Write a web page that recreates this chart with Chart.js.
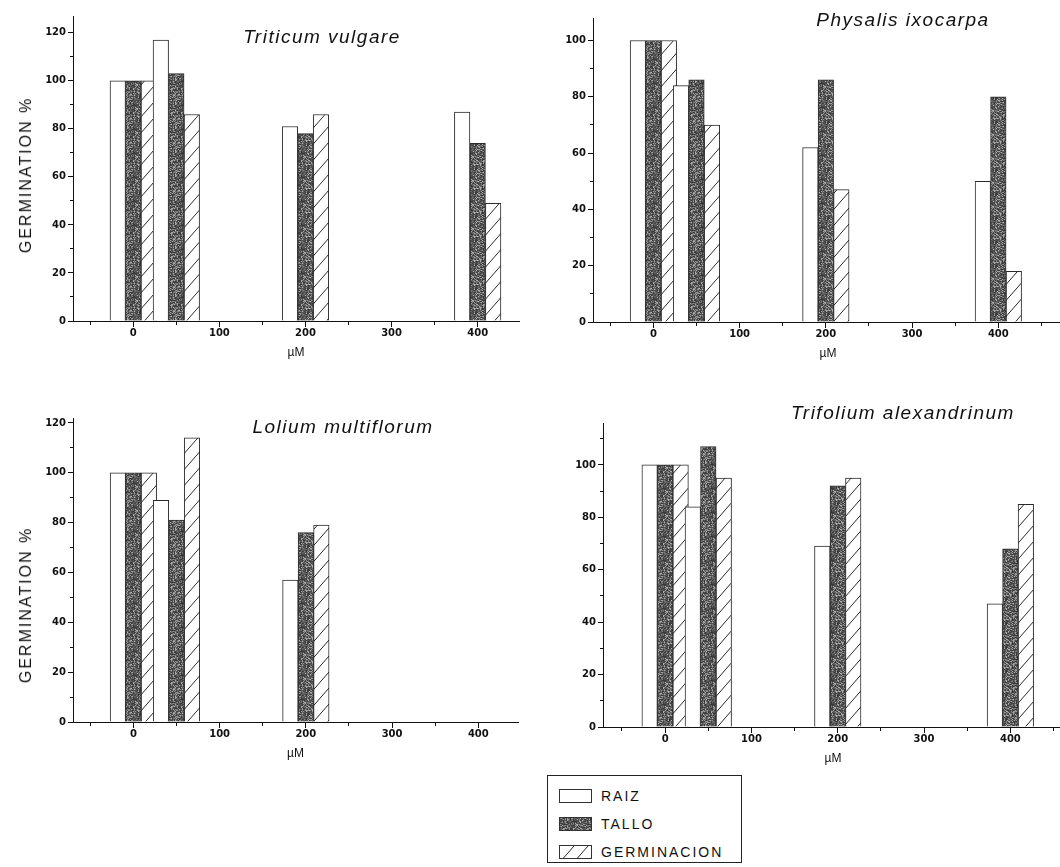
<!DOCTYPE html>
<html>
<head>
<meta charset="utf-8">
<title>Germinación</title>
<script src="https://cdn.jsdelivr.net/npm/chart.js@4.4.1/dist/chart.umd.min.js"></script>
<style>
  html, body { margin: 0; padding: 0; background: #fff; }
  body { width: 1060px; height: 867px; position: relative; overflow: hidden; font-family: "Liberation Sans", Arial, sans-serif; color: #111; }
  canvas { position: absolute; }
  .title { position: absolute; transform: translate(-50%, -50%); font-style: italic; font-size: 19px; letter-spacing: 1.5px; white-space: nowrap; }
  .ylabel { position: absolute; transform: translate(-50%, -50%) rotate(-90deg); font-size: 16px; letter-spacing: 2px; white-space: nowrap; }
  .legend { position: absolute; left: 547px; top: 775px; width: 195px; height: 88px; border: 1.5px solid #222; box-sizing: border-box; }
  .legend .item { position: absolute; left: 11px; height: 15px; display: flex; align-items: center; }
  .legend .swatch { width: 33px; height: 14px; border: 1px solid #333; box-sizing: border-box; margin-right: 9px; }
  .legend .name { font-size: 14px; letter-spacing: 2px; }
</style>
</head>
<body>
<script>
// concentrations (µM) and germination values per species
const concentrations = [0, 50, 200, 400];
const seriesNames = ['RAIZ', 'TALLO', 'GERMINACION'];

const triticumRaiz = [100, 117, 81, 87];
const triticumTallo = [100, 103, 78, 74];
const triticumGerm = [100, 86, 86, 49];

const physalisRaiz = [100, 84, 62, 50];
const physalisTallo = [100, 86, 86, 80];
const physalisGerm = [100, 70, 47, 18];

const loliumRaiz = [100, 89, 57, null];
const loliumTallo = [100, 81, 76, null];
const loliumGerm = [100, 114, 79, null];

const trifoliumRaiz = [100, 84, 69, 47];
const trifoliumTallo = [100, 107, 92, 68];
const trifoliumGerm = [100, 95, 95, 85];

const xTickLabels = [0, 100, 200, 300, 400];
const yTickLabels = [0, 20, 40, 60, 80, 100, 120];

// panel geometry: plot area [left, top, right, bottom] in page pixels
const panels = [
  { title: 'Triticum vulgare', values: [triticumRaiz, triticumTallo, triticumGerm],
    area: [73, 16, 519, 321], xMin: -70, xMax: 448, yMax: 127, titleAt: [322, 37], yLabelAt: [26, 175] },
  { title: 'Physalis ixocarpa', values: [physalisRaiz, physalisTallo, physalisGerm],
    area: [593, 18, 1063, 322], xMin: -70, xMax: 475, yMax: 108, titleAt: [903, 20], yLabelAt: null },
  { title: 'Lolium multiflorum', values: [loliumRaiz, loliumTallo, loliumGerm],
    area: [73, 418, 518, 722], xMin: -70, xMax: 446, yMax: 122, titleAt: [343, 427], yLabelAt: [26, 605] },
  { title: 'Trifolium alexandrinum', values: [trifoliumRaiz, trifoliumTallo, trifoliumGerm],
    area: [603, 423, 1063, 727], xMin: -72, xMax: 461, yMax: 116, titleAt: [903, 413], yLabelAt: null }
];

// dark stippled fill for TALLO
function stippleTile() {
  const size = 24;
  const c = document.createElement('canvas');
  c.width = c.height = size;
  const g = c.getContext('2d');
  const img = g.createImageData(size, size);
  let s = 987654;
  for (let i = 0; i < size * size; i++) {
    s = (s * 1103515245 + 12345) & 0x7fffffff;
    const r = (s >> 8) % 1000 / 1000;
    const v = r < 0.7 ? 50 + r * 80 : 115 + (r - 0.7) * 230;
    img.data[i * 4] = img.data[i * 4 + 1] = img.data[i * 4 + 2] = v;
    img.data[i * 4 + 3] = 255;
  }
  g.putImageData(img, 0, 0);
  return c;
}

// diagonal hatch for GERMINACION
function hatchTile() {
  const w = 14, h = 16;
  const c = document.createElement('canvas');
  c.width = w; c.height = h;
  const g = c.getContext('2d');
  g.fillStyle = '#fff';
  g.fillRect(0, 0, w, h);
  g.strokeStyle = '#2a2a2a';
  g.lineWidth = 1;
  g.beginPath();
  for (const n of [-1, 0, 1]) {
    g.moveTo(0, h + n * h);
    g.lineTo(w, n * h);
  }
  g.stroke();
  return c;
}

const stipple = stippleTile();
const hatch = hatchTile();
const ctx0 = document.createElement('canvas').getContext('2d');
const fills = ['#ffffff', ctx0.createPattern(stipple, 'repeat'), ctx0.createPattern(hatch, 'repeat')];

const Y_WIDTH = 73, PAD_T = 10, PAD_R = 14, X_HEIGHT = 43;
const tickFont = { family: 'DejaVu Sans', size: 10, weight: 'bold' };

function makePanel(p) {
  const [l, t, r, b] = p.area;
  const cv = document.createElement('canvas');
  const w = r - l + Y_WIDTH + PAD_R;
  const h = b - t + PAD_T + X_HEIGHT;
  cv.width = w; cv.height = h;
  cv.style.left = (l - Y_WIDTH) + 'px';
  cv.style.top = (t - PAD_T) + 'px';
  cv.style.width = w + 'px';
  cv.style.height = h + 'px';
  document.body.appendChild(cv);

  const datasets = seriesNames.map((name, k) => ({
    label: name,
    data: concentrations.map((c, i) => ({ x: c, y: p.values[k][i] })).filter(d => d.y !== null),
    backgroundColor: fills[k],
    borderColor: '#2b2b2b',
    borderWidth: 1,
    barThickness: 15.5
  }));

  new Chart(cv, {
    type: 'bar',
    data: { datasets: datasets },
    options: {
      responsive: false,
      animation: false,
      layout: { padding: { top: PAD_T, right: PAD_R, left: 0, bottom: 0 } },
      plugins: { legend: { display: false }, tooltip: { enabled: false } },
      scales: {
        x: {
          type: 'linear',
          min: p.xMin,
          max: p.xMax,
          offset: false,
          border: { display: true, color: '#111', width: 1 },
          grid: {
            offset: false,
            drawOnChartArea: false,
            drawTicks: true,
            tickLength: 6,
            color: '#111',
            tickBorderDash: c => (xTickLabels.includes(c.tick.value) ? [] : [3, 100])
          },
          ticks: {
            stepSize: 50,
            includeBounds: false,
            autoSkip: false,
            maxRotation: 0,
            padding: 0,
            color: '#111',
            font: tickFont,
            callback: v => (xTickLabels.includes(v) ? String(v) : '')
          },
          title: { display: true, text: 'µM', color: '#111', font: { family: 'Liberation Sans', size: 12 }, padding: { top: 4, bottom: 4 } },
          afterFit: s => { s.height = X_HEIGHT; }
        },
        y: {
          min: 0,
          max: p.yMax,
          border: { display: true, color: '#111', width: 1 },
          grid: {
            drawOnChartArea: false,
            drawTicks: true,
            tickLength: 5,
            color: '#111',
            tickBorderDash: c => (yTickLabels.includes(c.tick.value) ? [] : [0, 2, 3, 100])
          },
          ticks: {
            stepSize: 10,
            includeBounds: false,
            maxTicksLimit: 100,
            padding: 2,
            color: '#111',
            font: tickFont,
            callback: v => (yTickLabels.includes(v) ? String(v) : '')
          },
          afterFit: s => { s.width = Y_WIDTH; }
        }
      }
    }
  });

  const title = document.createElement('div');
  title.className = 'title';
  title.textContent = p.title;
  title.style.left = p.titleAt[0] + 'px';
  title.style.top = p.titleAt[1] + 'px';
  document.body.appendChild(title);

  if (p.yLabelAt) {
    const yl = document.createElement('div');
    yl.className = 'ylabel';
    yl.textContent = 'GERMINATION %';
    yl.style.left = p.yLabelAt[0] + 'px';
    yl.style.top = p.yLabelAt[1] + 'px';
    document.body.appendChild(yl);
  }
}

panels.forEach(makePanel);

// legend box below the lower panels
const legend = document.createElement('div');
legend.className = 'legend';
const swatchBg = ['#fff', 'url(' + stipple.toDataURL() + ')', 'url(' + hatch.toDataURL() + ')'];
seriesNames.forEach((name, k) => {
  const item = document.createElement('div');
  item.className = 'item';
  item.style.top = (12 + k * 28) + 'px';
  const sw = document.createElement('div');
  sw.className = 'swatch';
  sw.style.background = swatchBg[k];
  const label = document.createElement('span');
  label.className = 'name';
  label.textContent = name;
  item.appendChild(sw);
  item.appendChild(label);
  legend.appendChild(item);
});
document.body.appendChild(legend);
</script>
</body>
</html>
